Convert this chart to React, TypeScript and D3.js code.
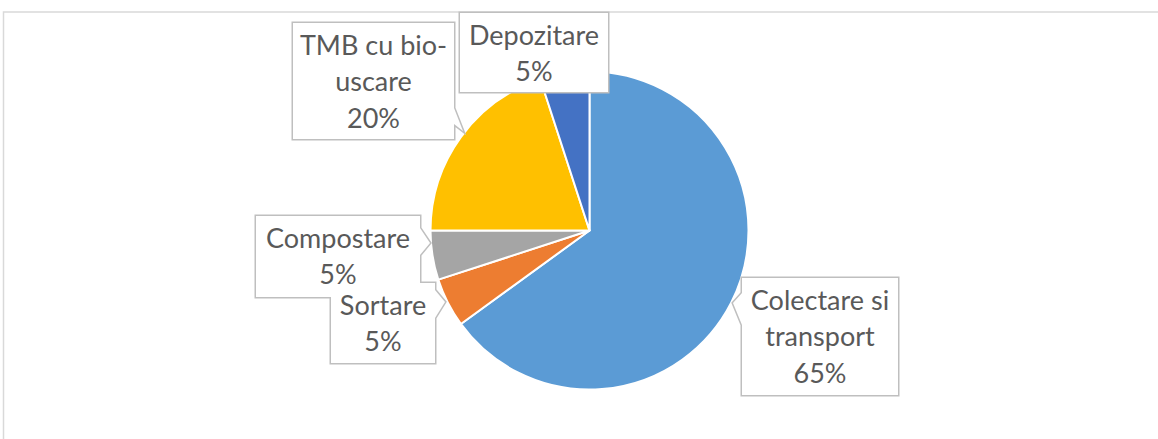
import React from "react";
import * as d3 from "d3";

const categories = ["Colectare si transport", "Sortare", "Compostare", "TMB cu bio-uscare", "Depozitare"];
const values = [65, 5, 5, 20, 5];
const labelLines = [
  ["Colectare si", "transport", "65%"],
  ["Sortare", "5%"],
  ["Compostare", "5%"],
  ["TMB cu bio-", "uscare", "20%"],
  ["Depozitare", "5%"],
];
const colors = ["#5B9BD5", "#ED7D31", "#A5A5A5", "#FFC000", "#4472C4"];

// layout of callout boxes: x0,y0,x1,y1, pointer side, notch start/end, tip
type Box = { x0: number; y0: number; x1: number; y1: number; side: "l" | "r" | "n"; n0: number; n1: number; tx: number; ty: number };
const boxes: Box[] = [
  { x0: 742, y0: 278, x1: 898, y1: 395, side: "l", n0: 293, n1: 325, tx: 733, ty: 303 },
  { x0: 331, y0: 283, x1: 435, y1: 363, side: "r", n0: 290, n1: 318, tx: 445, ty: 302 },
  { x0: 256, y0: 216, x1: 420, y1: 297, side: "r", n0: 228, n1: 255, tx: 430, ty: 243 },
  { x0: 293, y0: 23, x1: 454, y1: 139, side: "r", n0: 108, n1: 124, tx: 463, ty: 131 },
  { x0: 460, y0: 13, x1: 608, y1: 92, side: "n", n0: 0, n1: 0, tx: 0, ty: 0 },
];

function boxPath(b: Box): string {
  const p = d3.path();
  p.moveTo(b.x0, b.y0);
  p.lineTo(b.x1, b.y0);
  if (b.side === "r") {
    p.lineTo(b.x1, b.n0);
    p.lineTo(b.tx, b.ty);
    p.lineTo(b.x1, b.n1);
  }
  p.lineTo(b.x1, b.y1);
  p.lineTo(b.x0, b.y1);
  if (b.side === "l") {
    p.lineTo(b.x0, b.n1);
    p.lineTo(b.tx, b.ty);
    p.lineTo(b.x0, b.n0);
  }
  p.closePath();
  return p.toString();
}

export default function App() {
  const cx = 589.5;
  const cy = 230.5;
  const r = 159;
  const pie = d3.pie<number>().sort(null).value((d) => d);
  const arcs = pie(values);
  const arcGen = d3.arc<d3.PieArcDatum<number>>().innerRadius(0).outerRadius(r);
  const lineH = 36.5;
  return (
    <svg
      width={1158}
      height={439}
      style={{ position: "absolute", left: 0, top: 0, background: "#fff" }}
    >
      <rect x={3.5} y={12} width={1300} height={600} fill="#fff" stroke="#D9D9D9" strokeWidth={1.5} />
      <g transform={`translate(${cx},${cy})`}>
        {arcs.map((a, i) => (
          <path key={categories[i]} d={arcGen(a) || ""} fill={colors[i]} stroke="#fff" strokeWidth={2} strokeLinejoin="round" />
        ))}
      </g>
      {boxes.map((b, i) => (
        <path key={"s" + i} d={boxPath(b)} fill="none" stroke="#BFBFBF" strokeWidth={3} strokeLinejoin="miter" />
      ))}
      {boxes.map((b, i) => (
        <path key={"f" + i} d={boxPath(b)} fill="#fff" stroke="none" />
      ))}
      {boxes.map((b, i) => (
        <text
          key={"t" + i}
          x={(b.x0 + b.x1) / 2}
          y={b.y0 + 31.5}
          textAnchor="middle"
          fontFamily="Lato, 'Open Sans', sans-serif"
          fontSize={27}
          fill="#595959"
        >
          {labelLines[i].map((l, j) => (
            <tspan key={j} x={(b.x0 + b.x1) / 2} y={b.y0 + 31.5 + j * lineH}>
              {l}
            </tspan>
          ))}
        </text>
      ))}
    </svg>
  );
}
